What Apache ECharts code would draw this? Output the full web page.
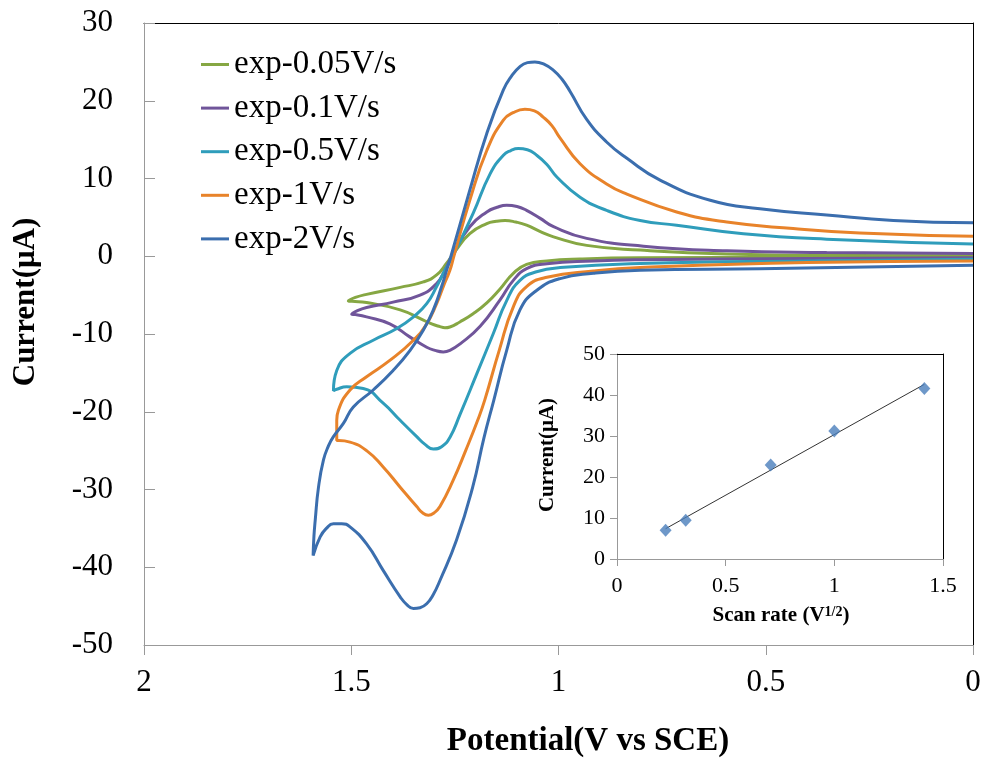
<!DOCTYPE html>
<html>
<head>
<meta charset="utf-8">
<script src="https://cdn.jsdelivr.net/npm/echarts@6/dist/echarts.min.js"></script>
<style>
  html, body { margin: 0; padding: 0; background: #fff; }
  #chart { width: 986px; height: 761px; }
</style>
</head>
<body>
<div id="chart"></div>
<script>
// Cyclic voltammograms: each scan is stored as its forward branch (0 V -> switching
// potential) and its return branch (switching potential -> 0 V), as [potential V, current µA].
const seriesNames = ['exp-0.05V/s', 'exp-0.1V/s', 'exp-0.5V/s', 'exp-1V/s', 'exp-2V/s'];
const seriesColors = ['#86A743', '#70559A', '#2F9DBB', '#E8832A', '#3B6EAE'];

const fwd005 = [[0, -0.1], [0.4, -0.15], [0.803, -0.2], [0.948, -0.35], [1.028, -0.6], [1.077, -1.05],
  [1.109, -2.2], [1.141, -4.2], [1.173, -6.0], [1.206, -7.4], [1.238, -8.45], [1.262, -9.1],
  [1.274, -9.2], [1.286, -9.05], [1.306, -8.7], [1.326, -8.2], [1.382, -6.9], [1.463, -5.95],
  [1.498, -5.8], [1.507, -5.75]];
const rev005 = [[1.507, -5.75], [1.49, -5.3], [1.463, -4.9], [1.382, -4.0], [1.326, -3.3], [1.294, -2.4],
  [1.27, -0.9], [1.25, 0.6], [1.214, 2.9], [1.173, 4.2], [1.15, 4.5], [1.129, 4.6], [1.103, 4.4],
  [1.077, 4.0], [1.045, 3.2], [1.012, 2.5], [0.932, 1.4], [0.803, 0.8], [0.594, 0.3], [0.3, 0.1], [0, 0.05]];

const fwd01 = [[0, -0.2], [0.4, -0.3], [0.803, -0.45], [0.916, -0.6], [1.028, -0.95], [1.077, -1.6],
  [1.109, -3.1], [1.141, -5.6], [1.189, -9.0], [1.238, -11.3], [1.262, -12.1], [1.278, -12.3],
  [1.298, -12.1], [1.318, -11.7], [1.358, -10.4], [1.407, -8.7], [1.463, -7.8], [1.49, -7.5], [1.499, -7.46]];
const rev01 = [[1.499, -7.46], [1.485, -7.0], [1.463, -6.6], [1.399, -5.9], [1.334, -5.0], [1.294, -3.5],
  [1.274, -1.8], [1.255, 0.3], [1.214, 3.8], [1.173, 5.7], [1.148, 6.3], [1.125, 6.56], [1.1, 6.4],
  [1.077, 5.9], [1.045, 4.9], [1.012, 3.8], [0.932, 2.3], [0.795, 1.3], [0.594, 0.7], [0.353, 0.47], [0, 0.34]];

const fwd05 = [[0, -0.4], [0.4, -0.6], [0.803, -0.94], [0.996, -1.46], [1.053, -2.0], [1.093, -3.1],
  [1.125, -5.7], [1.157, -9.9], [1.197, -15.1], [1.238, -20.4], [1.262, -23.3], [1.282, -24.5],
  [1.302, -24.8], [1.322, -24.2], [1.342, -23.2], [1.382, -21.1], [1.423, -18.9], [1.471, -17.0],
  [1.511, -16.8], [1.535, -17.1], [1.543, -17.3]];
const rev05 = [[1.543, -17.3], [1.535, -14.7], [1.503, -12.5], [1.447, -10.8], [1.39, -9.3], [1.35, -7.8],
  [1.318, -6.1], [1.294, -3.9], [1.274, -1.8], [1.255, 0], [1.206, 5.5], [1.165, 10.6], [1.133, 13.0],
  [1.115, 13.6], [1.097, 13.85], [1.075, 13.7], [1.053, 13.0], [1.028, 11.8], [1.004, 10.2], [0.948, 7.6],
  [0.884, 5.9], [0.803, 4.6], [0.715, 4.0], [0.554, 2.9], [0.353, 2.2], [0, 1.59]];

const fwd1 = [[0, -0.6], [0.4, -0.8], [0.803, -1.46], [0.916, -1.9], [1.028, -2.7], [1.077, -3.9],
  [1.109, -6.5], [1.143, -12.1], [1.178, -18.5], [1.195, -21.1], [1.224, -25.0], [1.254, -28.8],
  [1.286, -32.2], [1.3, -33.0], [1.314, -33.3], [1.328, -33.0], [1.342, -32.2], [1.382, -29.7],
  [1.423, -27.1], [1.463, -25.0], [1.503, -23.9], [1.53, -23.7], [1.535, -23.7]];
const rev1 = [[1.535, -23.7], [1.535, -21.1], [1.531, -19.8], [1.503, -17.2], [1.463, -15.5], [1.407, -13.4],
  [1.35, -10.8], [1.318, -8.7], [1.294, -6.1], [1.278, -3.9], [1.262, -1.8], [1.253, -0.1], [1.214, 7.2],
  [1.173, 13.6], [1.133, 17.5], [1.108, 18.5], [1.081, 18.9], [1.058, 18.7], [1.037, 17.9], [1.016, 16.8],
  [0.996, 15.2], [0.948, 11.9], [0.884, 9.3], [0.835, 8.0], [0.715, 5.7], [0.594, 4.4], [0.434, 3.56],
  [0.273, 3.0], [0, 2.57]];

const fwd2 = [[0, -1.16], [0.514, -1.6], [0.803, -1.8], [0.916, -2.2], [0.996, -2.87], [1.053, -4.4],
  [1.093, -6.9], [1.125, -12.1], [1.156, -18.5], [1.18, -23.4], [1.207, -29.7], [1.246, -36.5],
  [1.286, -41.7], [1.302, -43.5], [1.318, -44.7], [1.334, -45.2], [1.35, -45.3], [1.366, -44.8],
  [1.382, -43.8], [1.423, -40.4], [1.463, -37.0], [1.503, -34.8], [1.523, -34.4], [1.543, -34.4],
  [1.56, -35.0], [1.575, -36.1], [1.592, -38.5]];
const rev2 = [[1.592, -38.5], [1.59, -36], [1.587, -34], [1.579, -29.7], [1.567, -26.2], [1.555, -24.4],
  [1.543, -23.2], [1.519, -21.5], [1.495, -19.4], [1.447, -17.2], [1.399, -14.7], [1.358, -12.1],
  [1.326, -9.5], [1.302, -6.9], [1.282, -3.9], [1.27, -1.8], [1.26, -0.1], [1.214, 8.5], [1.173, 15.8],
  [1.133, 21.4], [1.113, 23.2], [1.093, 24.4], [1.075, 24.9], [1.057, 25.0], [1.035, 24.7], [1.012, 23.9],
  [0.992, 22.8], [0.972, 21.2], [0.932, 17.6], [0.884, 14.7], [0.835, 12.6], [0.755, 9.8], [0.634, 7.2],
  [0.514, 6.1], [0.353, 5.3], [0.192, 4.6], [0, 4.3]];

const forwardScans = [fwd005, fwd01, fwd05, fwd1, fwd2];
const reverseScans = [rev005, rev01, rev05, rev1, rev2];

// Inset: peak current against square root of scan rate
const sqrtScanRate = [0.2236, 0.3162, 0.7071, 1.0, 1.4142];
const peakCurrent = [7.0, 9.45, 22.9, 31.2, 41.6];

// least-squares fit for the inset trend line
function linearFit(xs, ys) {
  const n = xs.length;
  const mx = xs.reduce((a, b) => a + b, 0) / n;
  const my = ys.reduce((a, b) => a + b, 0) / n;
  let sxy = 0, sxx = 0;
  for (let i = 0; i < n; i++) { sxy += (xs[i] - mx) * (ys[i] - my); sxx += (xs[i] - mx) ** 2; }
  const k = sxy / sxx;
  return { k, b: my - k * mx };
}
const fit = linearFit(sqrtScanRate, peakCurrent);
const xLo = Math.min(...sqrtScanRate), xHi = Math.max(...sqrtScanRate);
const trendLine = [[xLo, fit.k * xLo + fit.b], [xHi, fit.k * xHi + fit.b]];

const SERIF = "'Liberation Serif', 'Times New Roman', serif";
const GRAY = '#999999';

const cvSeries = seriesNames.map((name, i) => ({
  name,
  type: 'line',
  xAxisIndex: 0,
  yAxisIndex: 0,
  data: forwardScans[i].concat(reverseScans[i].slice(1)),
  showSymbol: false,
  symbol: 'none',
  smooth: 0.5,
  lineStyle: { color: seriesColors[i], width: 3 },
  itemStyle: { color: seriesColors[i] },
  z: 3 + i
}));

const chart = echarts.init(document.getElementById('chart'), null, { renderer: 'canvas' });

chart.setOption({
  backgroundColor: '#ffffff',
  animation: false,
  textStyle: { fontFamily: SERIF },
  grid: [
    { left: 144, right: 13, top: 23, bottom: 116 },
    { left: 617, right: 43, top: 354, bottom: 202 }
  ],
  legend: {
    data: seriesNames,
    orient: 'vertical',
    left: 201,
    top: 48,
    padding: 0,
    icon: 'rect',
    itemWidth: 28,
    itemHeight: 3,
    itemGap: 10.6,
    textStyle: { fontFamily: SERIF, fontSize: 33, color: '#000', lineHeight: 33 }
  },
  xAxis: [
    {
      type: 'value', gridIndex: 0, min: 0, max: 2, interval: 0.5, inverse: true,
      axisLine: { onZero: false, lineStyle: { color: GRAY, width: 1 } },
      axisTick: { show: true, inside: false, length: 10, lineStyle: { color: GRAY } },
      axisLabel: { fontFamily: SERIF, fontSize: 31, color: '#000', margin: 22 },
      splitLine: { show: false }
    },
    {
      type: 'value', gridIndex: 0, position: 'top', min: 0, max: 2, inverse: true,
      axisLine: { onZero: false, lineStyle: { color: '#000', width: 1 } },
      axisTick: { show: false }, axisLabel: { show: false }, splitLine: { show: false }
    },
    {
      type: 'value', gridIndex: 1, min: 0, max: 1.5, interval: 0.5,
      axisLine: { onZero: false, lineStyle: { color: GRAY, width: 1 } },
      axisTick: { show: true, inside: false, length: 7, lineStyle: { color: GRAY } },
      axisLabel: { fontFamily: SERIF, fontSize: 22, color: '#000', margin: 16 },
      splitLine: { show: false }
    },
    {
      type: 'value', gridIndex: 1, position: 'top', min: 0, max: 1.5,
      axisLine: { onZero: false, lineStyle: { color: '#000', width: 1 } },
      axisTick: { show: false }, axisLabel: { show: false }, splitLine: { show: false }
    }
  ],
  yAxis: [
    {
      type: 'value', gridIndex: 0, min: -50, max: 30, interval: 10,
      axisLine: { show: true, onZero: false, lineStyle: { color: GRAY, width: 1 } },
      axisTick: { show: true, inside: true, length: 11, lineStyle: { color: GRAY } },
      axisLabel: { fontFamily: SERIF, fontSize: 31, color: '#000', margin: 31 },
      splitLine: { show: false }
    },
    {
      type: 'value', gridIndex: 0, position: 'right', min: -50, max: 30,
      axisLine: { show: true, onZero: false, lineStyle: { color: '#000', width: 1 } },
      axisTick: { show: false }, axisLabel: { show: false }, splitLine: { show: false }
    },
    {
      type: 'value', gridIndex: 1, min: 0, max: 50, interval: 10,
      axisLine: { show: true, onZero: false, lineStyle: { color: GRAY, width: 1 } },
      axisTick: { show: true, inside: false, length: 7, lineStyle: { color: GRAY } },
      axisLabel: { fontFamily: SERIF, fontSize: 22, color: '#000', margin: 12 },
      splitLine: { show: false }
    },
    {
      type: 'value', gridIndex: 1, position: 'right', min: 0, max: 50,
      axisLine: { show: true, onZero: false, lineStyle: { color: '#000', width: 1 } },
      axisTick: { show: false }, axisLabel: { show: false }, splitLine: { show: false }
    }
  ],
  series: cvSeries.concat([
    {
      name: 'fit', type: 'line', xAxisIndex: 2, yAxisIndex: 2,
      data: trendLine, symbol: 'none', showSymbol: false,
      lineStyle: { color: '#333333', width: 1 }, z: 5
    },
    {
      name: 'peak', type: 'scatter', xAxisIndex: 2, yAxisIndex: 2,
      data: sqrtScanRate.map((x, i) => [x, peakCurrent[i]]),
      symbol: 'diamond', symbolSize: [12, 13],
      itemStyle: { color: '#4A7EBB' }, z: 6
    }
  ]),
  graphic: [
    {
      type: 'text', x: 26, y: 302, rotation: Math.PI / 2,
      style: { text: 'Current(μA)', font: 'bold 31px ' + SERIF, fill: '#000', align: 'center', verticalAlign: 'middle' }
    },
    {
      type: 'text', x: 588, y: 741,
      style: { text: 'Potential(V vs SCE)', font: 'bold 33px ' + SERIF, fill: '#000', align: 'center', verticalAlign: 'middle' }
    },
    {
      type: 'text', x: 548, y: 455, rotation: Math.PI / 2,
      style: { text: 'Current(μA)', font: 'bold 21px ' + SERIF, fill: '#000', align: 'center', verticalAlign: 'middle' }
    },
    {
      type: 'text', x: 781, y: 616,
      style: {
        text: '{a|Scan rate (V}{s|1/2}{a|)}',
        align: 'center', verticalAlign: 'middle',
        rich: {
          a: { font: 'bold 21px ' + SERIF, fill: '#000', color: '#000' },
          s: { font: 'bold 14px ' + SERIF, fill: '#000', color: '#000', verticalAlign: 'top', padding: [0, 0, 8, 0] }
        }
      }
    }
  ]
});
</script>
</body>
</html>
